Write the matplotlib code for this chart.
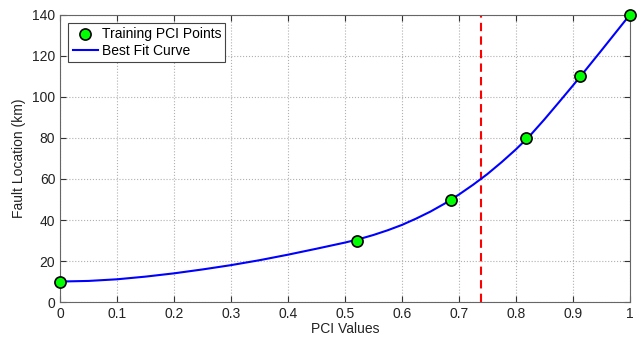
#!/usr/bin/env python
"""
Fault location vs PCI values with a best fit curve.
"""

import matplotlib
matplotlib.use("Agg")
import matplotlib.pyplot as plt

# Training points
pci_points = [0.0, 0.522, 0.687, 0.8175, 0.912, 1.0]
fault_km = [10, 30, 50, 80, 110, 140]

# Best fit curve
curve_pci = [0.0, 0.05, 0.1, 0.15, 0.2, 0.25, 0.3, 0.35, 0.4, 0.45, 0.5,
             0.525, 0.55, 0.575, 0.6, 0.625, 0.65, 0.675, 0.7, 0.725, 0.75,
             0.775, 0.8, 0.825, 0.85, 0.875, 0.9, 0.925, 0.95, 0.975, 1.0]
curve_km = [10, 10.3, 11.1, 12.4, 14.0, 15.9, 18.0, 20.4, 23.1, 26.0, 29.0,
            30.7, 32.7, 35.0, 37.6, 40.7, 44.1, 48.0, 52.4, 57.2, 62.4,
            68.2, 74.4, 81.2, 89.0, 97.2, 105.5, 114.0, 122.6, 131.3, 140]

# Test PCI value
test_pci = 0.738

x_ticks = [0, 0.1, 0.2, 0.3, 0.4, 0.5, 0.6, 0.7, 0.8, 0.9, 1]
x_labels = ["0", "0.1", "0.2", "0.3", "0.4", "0.5", "0.6", "0.7", "0.8", "0.9", "1"]
y_ticks = [0, 20, 40, 60, 80, 100, 120, 140]


def plot_fit():
    plt.rcParams["font.family"] = ["Liberation Sans", "DejaVu Sans"]
    plt.rcParams["font.size"] = 10
    fig = plt.figure(figsize=(6.4, 3.39), dpi=100)
    ax = fig.add_axes([0.094, 0.109, 0.89, 0.847])

    ax.plot(pci_points, fault_km, "o", ms=8, mfc="#00ff00", mec="black", mew=1.2,
            label="Training PCI Points", zorder=4, clip_on=False)
    ax.plot(curve_pci, curve_km, c="blue", lw=1.5, label="Best Fit Curve", zorder=3,
            solid_joinstyle="round")
    ax.axvline(test_pci, c="red", ls=(0, (4, 2.5)), lw=1.5, zorder=2)

    ax.set_xlim(0, 1)
    ax.set_ylim(0, 140)
    ax.set_xticks(x_ticks)
    ax.set_xticklabels(x_labels)
    ax.set_yticks(y_ticks)
    ax.grid(True, ls=":", c="#b0b0b0", lw=0.8)
    ax.tick_params(direction="in", top=True, right=True, length=4, colors="#333333",
                   labelcolor="#222222", labelsize=10)
    for s in ax.spines.values():
        s.set_color("#666666")

    ax.set_xlabel("PCI Values", labelpad=1, color="#222222")
    ax.set_ylabel("Fault Location (km)", labelpad=4, color="#222222")

    leg = ax.legend(loc="upper left", fancybox=False, framealpha=1, edgecolor="#444444",
                    handlelength=1.8, handletextpad=0.3, borderpad=0.3, labelspacing=0.2,
                    borderaxespad=0.6, fontsize=10)
    leg.get_frame().set_linewidth(0.8)

    fig.savefig("out.png", dpi=100)


if __name__ == "__main__":
    plot_fit()
